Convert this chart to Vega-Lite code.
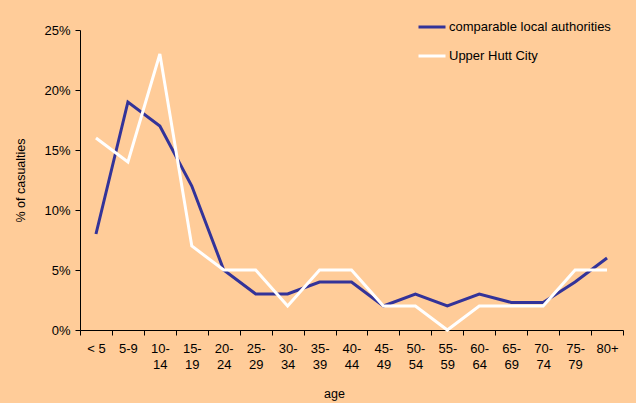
{
  "$schema": "https://vega.github.io/schema/vega-lite/v6.json",
  "autosize": {"type": "none"},
  "width": 543,
  "height": 300,
  "padding": {"left": 80, "top": 30, "right": 13, "bottom": 73},
  "background": "#FFCC99",
  "config": {
    "view": {"stroke": null},
    "font": "Liberation Sans",
    "axis": {"grid": false, "domainColor": "#000000", "tickColor": "#000000", "labelColor": "#000000", "titleColor": "#000000", "labelFont": "Liberation Sans", "titleFont": "Liberation Sans", "labelFontSize": 13, "titleFontSize": 12.5, "titleFontWeight": "normal", "tickSize": 5},
    "legend": {"labelFont": "Liberation Sans", "labelFontSize": 13, "labelColor": "#000000", "labelLimit": 400}
  },
  "data": {
    "values": [
      {"age": "< 5", "series": "comparable local authorities", "pct": 8},
      {"age": "5-9", "series": "comparable local authorities", "pct": 19},
      {"age": "10-14", "series": "comparable local authorities", "pct": 17},
      {"age": "15-19", "series": "comparable local authorities", "pct": 12},
      {"age": "20-24", "series": "comparable local authorities", "pct": 5},
      {"age": "25-29", "series": "comparable local authorities", "pct": 3},
      {"age": "30-34", "series": "comparable local authorities", "pct": 3},
      {"age": "35-39", "series": "comparable local authorities", "pct": 4},
      {"age": "40-44", "series": "comparable local authorities", "pct": 4},
      {"age": "45-49", "series": "comparable local authorities", "pct": 2},
      {"age": "50-54", "series": "comparable local authorities", "pct": 3},
      {"age": "55-59", "series": "comparable local authorities", "pct": 2},
      {"age": "60-64", "series": "comparable local authorities", "pct": 3},
      {"age": "65-69", "series": "comparable local authorities", "pct": 2.3},
      {"age": "70-74", "series": "comparable local authorities", "pct": 2.3},
      {"age": "75-79", "series": "comparable local authorities", "pct": 4},
      {"age": "80+", "series": "comparable local authorities", "pct": 6},
      {"age": "< 5", "series": "Upper Hutt City", "pct": 16},
      {"age": "5-9", "series": "Upper Hutt City", "pct": 14},
      {"age": "10-14", "series": "Upper Hutt City", "pct": 23},
      {"age": "15-19", "series": "Upper Hutt City", "pct": 7},
      {"age": "20-24", "series": "Upper Hutt City", "pct": 5},
      {"age": "25-29", "series": "Upper Hutt City", "pct": 5},
      {"age": "30-34", "series": "Upper Hutt City", "pct": 2},
      {"age": "35-39", "series": "Upper Hutt City", "pct": 5},
      {"age": "40-44", "series": "Upper Hutt City", "pct": 5},
      {"age": "45-49", "series": "Upper Hutt City", "pct": 2},
      {"age": "50-54", "series": "Upper Hutt City", "pct": 2},
      {"age": "55-59", "series": "Upper Hutt City", "pct": 0},
      {"age": "60-64", "series": "Upper Hutt City", "pct": 2},
      {"age": "65-69", "series": "Upper Hutt City", "pct": 2},
      {"age": "70-74", "series": "Upper Hutt City", "pct": 2},
      {"age": "75-79", "series": "Upper Hutt City", "pct": 5},
      {"age": "80+", "series": "Upper Hutt City", "pct": 5}
    ]
  },
  "mark": {"type": "line", "strokeWidth": 3},
  "encoding": {
    "x": {
      "field": "age", "type": "ordinal", "sort": null,
      "scale": {"type": "band", "paddingInner": 0, "paddingOuter": 0},
      "bandPosition": 0.5,
      "axis": {
        "title": "age", "labelAngle": 0, "tickBand": "extent", "labelPadding": 7, "titlePadding": 16, "titleX": 254,
        "labelLineHeight": 16,
        "labelExpr": "indexof(datum.label, '-') > 0 && datum.label != '5-9' ? [slice(datum.label, 0, 3), slice(datum.label, 3)] : datum.label"
      }
    },
    "y": {
      "field": "pct", "type": "quantitative",
      "scale": {"domain": [0, 25], "nice": false},
      "axis": {"title": "% of casualties", "values": [0, 5, 10, 15, 20, 25], "labelExpr": "datum.value + '%'", "titlePadding": 16, "labelPadding": 5}
    },
    "color": {
      "field": "series", "type": "nominal", "sort": ["comparable local authorities", "Upper Hutt City"],
      "scale": {"domain": ["comparable local authorities", "Upper Hutt City"], "range": ["#333399", "#FFFFFF"]},
      "legend": {"title": null, "orient": "none", "legendX": 337, "legendY": -18, "symbolType": "stroke", "symbolSize": 729, "symbolStrokeWidth": 3, "rowPadding": 7, "labelOffset": 2}
    }
  }
}
